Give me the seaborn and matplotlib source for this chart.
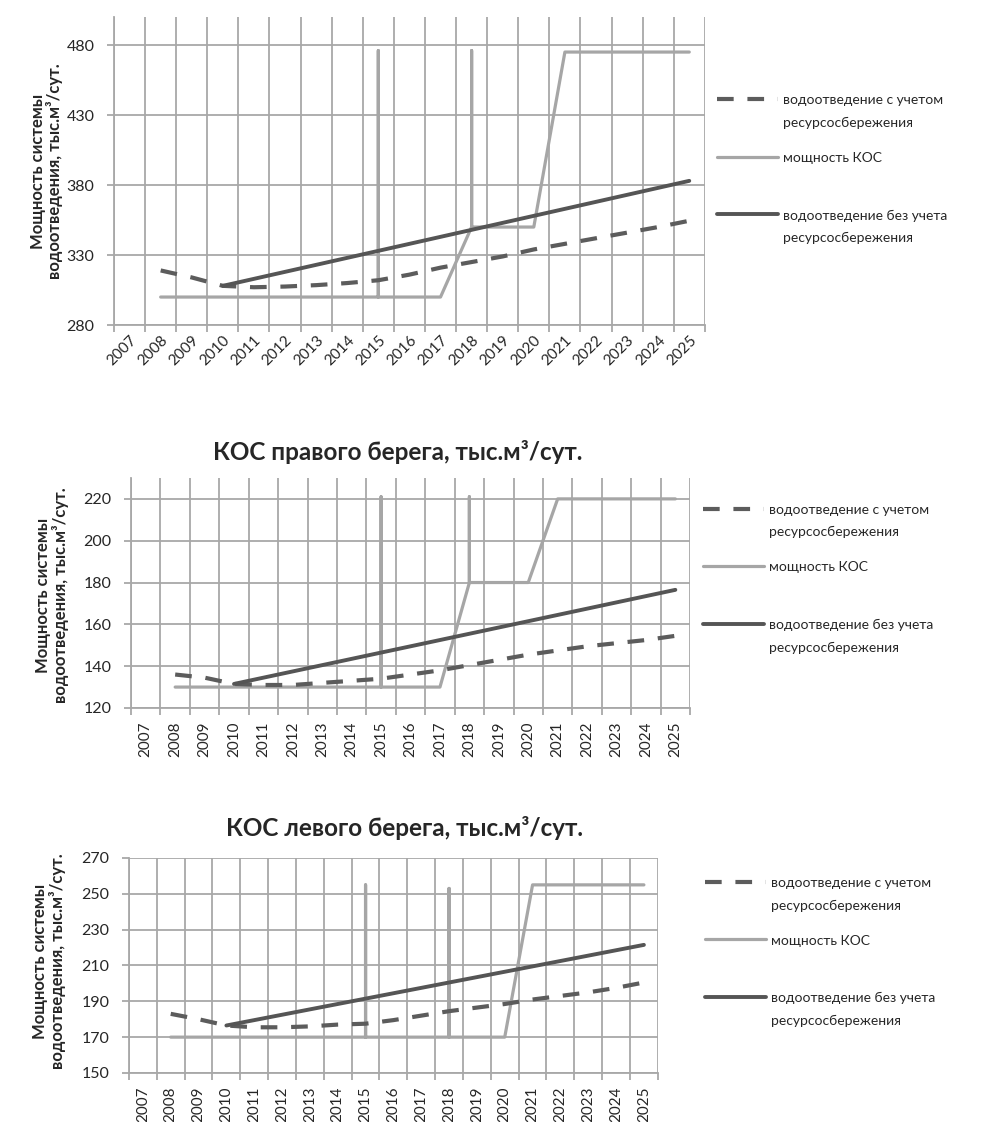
import numpy as np
import pandas as pd
import matplotlib
matplotlib.use('Agg')
import matplotlib.pyplot as plt
import seaborn as sns
from matplotlib.transforms import ScaledTranslation

sns.set_theme(style='white')
plt.rcParams['font.family'] = ['Lato', 'DejaVu Sans']

# Category axis
years = [str(y) for y in range(2007, 2026)]

# Series labels
lbl_reuse = 'водоотведение с учетом\nресурсосбережения'
lbl_cap = 'мощность КОС'
lbl_noreuse = 'водоотведение без учета\nресурсосбережения'
ylabel = 'Мощность системы\nводоотведения, тыс.м³/сут.'

# --- Chart 1 (total) ---
top_reuse_years = years[1:]
top_reuse = [319, 314, 308, 307, 307.5, 308.5, 310, 312, 316, 321, 325, 329, 334, 338, 342, 346, 350, 354.5]
top_noreuse_years = years[3:]
top_noreuse = [308, 313, 318, 323, 328, 333, 338, 343, 348, 353, 358, 363, 368, 373, 378, 383]
top_cap_years = ['2008', '2009', '2010', '2011', '2012', '2013', '2014', '2015', '2015', '2015',
                 '2016', '2017', '2018', '2018', '2018', '2019', '2020',
                 '2021', '2022', '2023', '2024', '2025']
top_cap = [300, 300, 300, 300, 300, 300, 300, 300, 476, 300,
           300, 300, 350, 476, 350, 350, 350,
           475, 475, 475, 475, 475]

# --- Chart 2 (right bank) ---
mid_title = 'КОС правого берега, тыс.м³/сут.'
mid_reuse_years = years[1:]
mid_reuse = [136, 134.5, 131.5, 131, 131, 132, 133, 134, 136, 138, 140.5, 143, 145.5, 147.5, 149.5, 151, 152.5, 154.5]
mid_noreuse_years = years[3:]
mid_noreuse = [131.5, 134.5, 137.5, 140.5, 143.5, 146.5, 149.5, 152.5, 155.5, 158.5, 161.5, 164.5, 167.5, 170.5, 173.5, 176.5]
mid_cap_years = top_cap_years
mid_cap = [130, 130, 130, 130, 130, 130, 130, 130, 221, 130,
           130, 130, 180, 221, 180, 180, 180,
           220, 220, 220, 220, 220]

# --- Chart 3 (left bank) ---
bot_title = 'КОС левого берега, тыс.м³/сут.'
bot_reuse_years = years[1:]
bot_reuse = [183, 180, 176.5, 175.5, 175.5, 176, 177, 177.5, 179.5, 182, 184.5, 186.5, 188.5, 191, 193, 195, 197.5, 200.5]
bot_noreuse_years = years[3:]
bot_noreuse = [176.5, 179.5, 182.5, 185.5, 188.5, 191.5, 194.5, 197.5, 200.5, 203.5, 206.5, 209.5, 212.5, 215.5, 218.5, 221.5]
bot_cap_years = top_cap_years
bot_cap = [170, 170, 170, 170, 170, 170, 170, 170, 255, 170,
           170, 170, 170, 253, 170, 170, 170,
           255, 255, 255, 255, 255]

GRID = '#a8a8a8'
LIGHT = '#a6a6a6'
DARK = '#555555'
DASH = '#5c5c5c'
TXT = '#262626'

pos = {y: i for i, y in enumerate(years)}

fig = plt.figure(figsize=(9.83, 11.22), dpi=100)
ax1 = fig.add_axes([0.116, 0.7103, 0.601, 0.2745])
ax2 = fig.add_axes([0.1333, 0.369, 0.5687, 0.205])
ax3 = fig.add_axes([0.1312, 0.0437, 0.538, 0.1916])


def draw(ax, reuse_years, reuse, noreuse_years, noreuse, cap_years, cap,
         ylim, yticks, rot, leg_anchor, ylab_xy):
    sns.lineplot(x=[pos[y] for y in cap_years], y=cap, sort=False, estimator=None,
                 color=LIGHT, linewidth=2.3, label=lbl_cap, ax=ax)
    sns.lineplot(x=[pos[y] for y in reuse_years], y=reuse, sort=False, estimator=None,
                 color=DASH, linewidth=3, linestyle=(0, (4, 3.3)), label=lbl_reuse, ax=ax)
    sns.lineplot(x=[pos[y] for y in noreuse_years], y=noreuse, sort=False, estimator=None,
                 color=DARK, linewidth=2.8, label=lbl_noreuse, ax=ax)

    ax.set_xlim(-0.5, len(years) - 0.5)
    ax.set_ylim(*ylim)
    ax.set_xticks(range(len(years)))
    if rot == 45:
        ax.set_xticklabels(years, rotation=45, ha='right', rotation_mode='anchor')
        shift = ScaledTranslation(6 / 72, 0, fig.dpi_scale_trans)
        for t in ax.get_xticklabels():
            t.set_transform(t.get_transform() + shift)
        xpad = 6
    else:
        ax.set_xticklabels(years, rotation=90, ha='center', va='top')
        xpad = 10
    ax.set_xticks(np.arange(-0.5, len(years)), minor=True)
    ax.set_yticks(yticks)

    ax.grid(which='minor', axis='x', color=GRID, linewidth=1.3)
    ax.grid(which='major', axis='y', color=GRID, linewidth=1.3)
    ax.grid(which='major', axis='x', visible=False)
    ax.set_axisbelow(True)

    ax.tick_params(axis='x', which='major', length=0, pad=xpad, labelsize=11, labelcolor=TXT)
    ax.tick_params(axis='x', which='minor', bottom=True, length=5, width=1.3, color=GRID)
    ax.tick_params(axis='y', left=True, length=5, width=1.3, color=GRID, labelsize=11.5,
                   labelcolor=TXT, pad=9)

    for s in ['top', 'right']:
        ax.spines[s].set_visible(False)
    for s in ['left', 'bottom']:
        ax.spines[s].set_color(GRID)
        ax.spines[s].set_linewidth(1.3)

    ax.set_xlabel('')
    ax.set_ylabel(ylabel, fontsize=12, fontweight='bold', color=TXT, linespacing=1.05)
    ax.yaxis.set_label_coords(*ylab_xy)

    h, l = ax.get_legend_handles_labels()
    order = [l.index(lbl_reuse), l.index(lbl_cap), l.index(lbl_noreuse)]
    # every entry takes two text lines, like the equal slots of the original legend
    labels = [lbl_reuse, lbl_cap + '\n', lbl_noreuse]
    leg = ax.legend([h[i] for i in order], labels, loc='upper left',
                    bbox_to_anchor=leg_anchor, frameon=False, fontsize=10, handlelength=4.4,
                    handletextpad=0.35, labelspacing=1.65, borderaxespad=0, borderpad=0,
                    labelcolor=TXT)
    for t in leg.get_texts():
        t.set_linespacing(2.05)
    # put each line sample next to the first text line
    for col in leg._legend_handle_box.get_children():
        for item in col.get_children():
            item.align = 'top'


draw(ax1, top_reuse_years, top_reuse, top_noreuse_years, top_noreuse, top_cap_years, top_cap,
     (280, 500), range(280, 481, 50), 45, (1.02, 0.749), (-0.086, 0.5))
draw(ax2, mid_reuse_years, mid_reuse, mid_noreuse_years, mid_noreuse, mid_cap_years, mid_cap,
     (120, 230), range(120, 221, 20), 90, (1.023, 0.888), (-0.111, 0.49))
draw(ax3, bot_reuse_years, bot_reuse, bot_noreuse_years, bot_noreuse, bot_cap_years, bot_cap,
     (150, 270), range(150, 271, 20), 90, (1.089, 0.912), (-0.119, 0.52))

fig.text(398 / 983, 1 - 452 / 1122, mid_title, ha='center', va='center',
         fontsize=17.5, fontweight='bold', color=TXT)
fig.text(405 / 983, 1 - 828 / 1122, bot_title, ha='center', va='center',
         fontsize=17.5, fontweight='bold', color=TXT)

fig.savefig('out.png', dpi=100, facecolor='white')
